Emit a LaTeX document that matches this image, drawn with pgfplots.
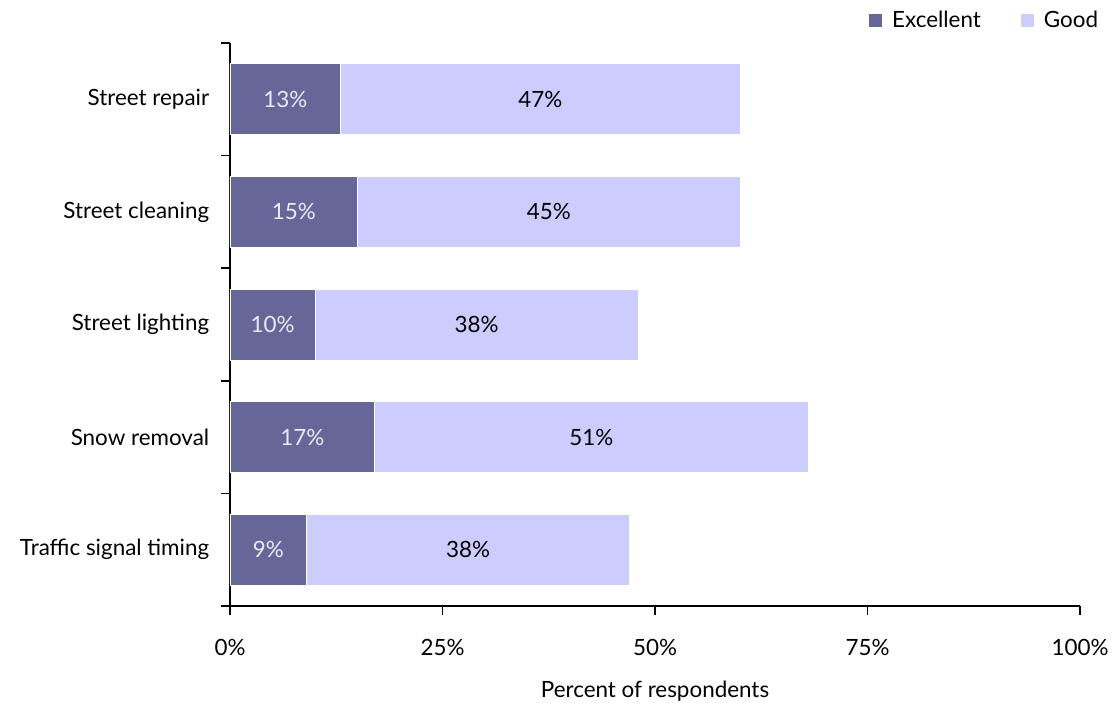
\documentclass[border=0pt]{standalone}
\usepackage{fontspec}
\setmainfont{Lato}
\usepackage{pgfplots}
\pgfplotsset{compat=1.18}
\usepackage{pgfplotstable}
\definecolor{excel}{RGB}{102,102,153}
\definecolor{good}{RGB}{204,204,255}
\definecolor{lbl}{RGB}{235,235,245}

% pos: 4 = top row
\pgfplotstableread{
pos exc good
4 13 47
3 15 45
2 10 38
1 17 51
0 9 38
}\ratings

\begin{document}
\fontsize{11.2}{13.4}\selectfont
\begin{tikzpicture}
\path[use as bounding box] (-115pt,-48pt) rectangle (441pt,303pt);
\begin{axis}[
  at={(0,0)}, anchor=south west,
  scale only axis, width=425pt, height=281.5pt,
  xmin=0, xmax=100, ymin=-0.5, ymax=4.5,
  axis x line*=bottom, axis y line*=left,
  axis line style={-, black, line width=0.8pt},
  tick align=outside, major tick length=4.5pt,
  tick style={black, line width=0.8pt},
  xtick={0,25,50,75,100},
  xticklabel={\pgfmathprintnumber{\tick}\%},
  /pgf/number format/assume math mode=true,
  xticklabel style={yshift=-8pt},
  ytick={-0.5,0.5,...,4.5},
  y tick label as interval,
  yticklabels={Traffic signal timing, Snow removal, Street lighting, Street cleaning, Street repair},
  yticklabel style={xshift=-2pt},
  xlabel={Percent of respondents},
  xlabel style={yshift=-5pt},
  legend columns=2,
  legend style={at={(1.0335,1.072)}, anchor=north east, draw=none, fill=none,
    /tikz/every even column/.append style={column sep=18pt}},
  legend image code/.code={\fill[#1] (0pt,-3.25pt) rectangle (6.5pt,3.25pt);
    \path (9.5pt,0pt);},
]
\addlegendimage{fill=excel, draw=none}
\addlegendentry{Excellent}
\addlegendimage{fill=good, draw=none}
\addlegendentry{Good}

\addplot[xbar, bar width=35.5pt, bar shift=0pt, fill=good, draw=white, forget plot]
  table[x expr=\thisrow{exc}+\thisrow{good}, y=pos]{\ratings};
\addplot[xbar, bar width=35.5pt, bar shift=0pt, fill=excel, draw=white, forget plot]
  table[x=exc, y=pos]{\ratings};

% segment labels
\addplot[only marks, mark=none, forget plot, point meta=explicit,
  nodes near coords={\pgfmathprintnumber{\pgfplotspointmeta}\%},
  every node near coord/.style={anchor=center, text=lbl}]
  table[x expr=\thisrow{exc}/2, y=pos, meta=exc]{\ratings};
\addplot[only marks, mark=none, forget plot, point meta=explicit,
  nodes near coords={\pgfmathprintnumber{\pgfplotspointmeta}\%},
  every node near coord/.style={anchor=center, text=black}]
  table[x expr=\thisrow{exc}+\thisrow{good}/2, y=pos, meta=good]{\ratings};
\end{axis}
\end{tikzpicture}
\end{document}
